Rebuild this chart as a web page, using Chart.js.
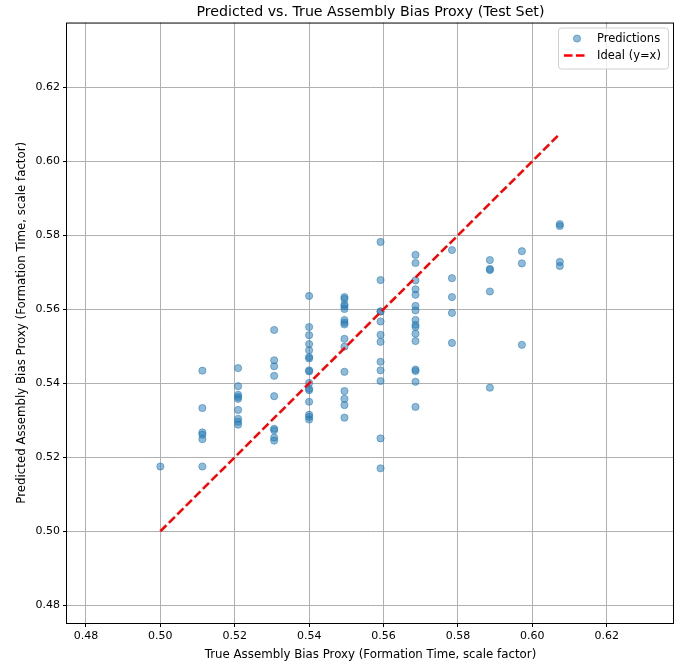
<!DOCTYPE html>
<html>
<head>
<meta charset="utf-8">
<script src="https://cdn.jsdelivr.net/npm/chart.js@4.4.1/dist/chart.umd.min.js"></script>
<style>
  body { margin: 0; background: #fff; }
  #wrap { width: 686px; height: 664px; }
</style>
</head>
<body>
<div id="wrap"><canvas id="scatterChart" width="686" height="664"></canvas></div>
<script>
// true values (x) and predicted values (y), one entry per test point
const trueVals = [
    0.5,
    0.5113, 0.5113, 0.5113, 0.5113, 0.5113, 0.5113,
    0.5209, 0.5209, 0.5209, 0.5209, 0.5209, 0.5209, 0.5209, 0.5209, 0.5209,
    0.5306, 0.5306, 0.5306, 0.5306, 0.5306, 0.5306, 0.5306, 0.5306, 0.5306,
    0.54, 0.54, 0.54, 0.54, 0.54, 0.54, 0.54, 0.54, 0.54, 0.54, 0.54, 0.54, 0.54, 0.54, 0.54, 0.54,
    0.5495, 0.5495, 0.5495, 0.5495, 0.5495, 0.5495, 0.5495, 0.5495, 0.5495, 0.5495, 0.5495, 0.5495, 0.5495, 0.5495, 0.5495,
    0.5592, 0.5592, 0.5592, 0.5592, 0.5592, 0.5592, 0.5592, 0.5592, 0.5592, 0.5592, 0.5592, 0.5592,
    0.5686, 0.5686, 0.5686, 0.5686, 0.5686, 0.5686, 0.5686, 0.5686, 0.5686, 0.5686, 0.5686, 0.5686, 0.5686, 0.5686, 0.5686, 0.5686,
    0.5784, 0.5784, 0.5784, 0.5784, 0.5784,
    0.5886, 0.5886, 0.5886, 0.5886, 0.5886,
    0.5972, 0.5972, 0.5972,
    0.6074, 0.6074, 0.6074, 0.6074
];
const predVals = [
    0.5175,
    0.5434, 0.5333, 0.5267, 0.5261, 0.5249, 0.5175,
    0.5441, 0.5392, 0.5369, 0.5363, 0.5358, 0.5328, 0.5304, 0.5296, 0.5288,
    0.5544, 0.5462, 0.5446, 0.5420, 0.5365, 0.5277, 0.5273, 0.5253, 0.5245,
    0.5636, 0.5552, 0.5530, 0.5506, 0.5489, 0.5471, 0.5467, 0.5435, 0.5432, 0.5401, 0.5385, 0.5381, 0.5350, 0.5315, 0.5309, 0.5302,
    0.5633, 0.5628, 0.5613, 0.5608, 0.5601, 0.5571, 0.5564, 0.5559, 0.5520, 0.5499, 0.5431, 0.5379, 0.5358, 0.5341, 0.5307,
    0.5782, 0.5679, 0.5594, 0.5567, 0.5531, 0.5512, 0.5458, 0.5435, 0.5406, 0.5251, 0.5170, 0.5594,
    0.5747, 0.5725, 0.5678, 0.5654, 0.5639, 0.5609, 0.5597, 0.5571, 0.5558, 0.5552, 0.5534, 0.5514, 0.5437, 0.5433, 0.5404, 0.5336,
    0.5760, 0.5684, 0.5633, 0.5590, 0.5509,
    0.5733, 0.5709, 0.5706, 0.5648, 0.5388,
    0.5757, 0.5724, 0.5504,
    0.5830, 0.5825, 0.5728, 0.5717
];
const tickVals = [0.48, 0.50, 0.52, 0.54, 0.56, 0.58, 0.60, 0.62];

const colors = {
    point: "rgba(31, 119, 180, 0.5)",
    ideal: "#ff0000",
    grid: "#b0b0b0"
};

const points = trueVals.map((x, i) => ({ x: x, y: predVals[i] }));
const lo = Math.min(...trueVals);
const hi = Math.max(...trueVals);
const idealLine = [{ x: lo, y: lo }, { x: hi, y: hi }];

const fontFamily = "'DejaVu Sans', sans-serif";
const idealDash = [8.5, 3.5];

// frame around plot area + matplotlib-style legend box
const framePlugin = {
    id: "frame",
    afterDraw(chart) {
        const { ctx, chartArea: a } = chart;
        ctx.save();
        ctx.strokeStyle = "#000";
        ctx.lineWidth = 1;
        ctx.strokeRect(a.left - 0.5, a.top + 0.5, a.right - a.left, a.bottom - a.top);

        // legend
        const bx = a.right - 116, by = a.top + 5, bw = 110, bh = 41;
        ctx.fillStyle = "rgba(255,255,255,0.8)";
        ctx.strokeStyle = "#d0d0d0";
        ctx.beginPath();
        ctx.roundRect(bx + 0.5, by + 0.5, bw, bh, 3);
        ctx.fill();
        ctx.stroke();

        ctx.font = "11.5px " + fontFamily;
        ctx.textBaseline = "middle";
        const ds = chart.data.datasets;

        ctx.beginPath();
        ctx.fillStyle = colors.point;
        ctx.strokeStyle = colors.point;
        ctx.lineWidth = 1;
        ctx.arc(bx + 19, by + 11, 3.6, 0, Math.PI * 2);
        ctx.fill();
        ctx.stroke();
        ctx.fillStyle = "#000";
        ctx.fillText(ds[0].label, bx + 39, by + 11);

        ctx.beginPath();
        ctx.strokeStyle = colors.ideal;
        ctx.lineWidth = 2.5;
        ctx.setLineDash(idealDash);
        ctx.moveTo(bx + 6, by + 28);
        ctx.lineTo(bx + 27, by + 28);
        ctx.stroke();
        ctx.setLineDash([]);
        ctx.fillText(ds[1].label, bx + 39, by + 28);
        ctx.restore();
    }
};

function axisOpts(min, max, title, isY) {
    return {
        type: "linear",
        min: min,
        max: max,
        afterBuildTicks: (scale) => {
            scale.ticks = tickVals.map(v => ({ value: v }));
        },
        afterFit: (scale) => {
            if (isY) scale.width = 54;
            else scale.height = 41;
        },
        ticks: {
            color: "#000",
            padding: 3,
            font: { family: fontFamily, size: 11 },
            callback: (v) => v.toFixed(2)
        },
        grid: {
            color: colors.grid,
            lineWidth: 1,
            tickColor: "#000",
            tickLength: 4
        },
        border: { display: false },
        title: {
            display: true,
            text: title,
            color: "#000",
            padding: { top: 2, bottom: 2 },
            font: { family: fontFamily, size: 11.8 }
        }
    };
}

const ctx = document.getElementById("scatterChart");
new Chart(ctx, {
    type: "scatter",
    data: {
        datasets: [
            {
                label: "Predictions",
                data: points,
                backgroundColor: colors.point,
                borderColor: colors.point,
                borderWidth: 1,
                pointRadius: 3.6,
                order: 2
            },
            {
                type: "line",
                label: "Ideal (y=x)",
                data: idealLine,
                borderColor: colors.ideal,
                borderWidth: 2.5,
                borderDash: idealDash,
                pointRadius: 0,
                fill: false,
                order: 1
            }
        ]
    },
    options: {
        responsive: false,
        animation: false,
        layout: { padding: { left: 13, right: 12, top: 0, bottom: 0 } },
        plugins: {
            legend: { display: false },
            tooltip: { enabled: false },
            title: {
                display: true,
                fullSize: false,
                text: "Predicted vs. True Assembly Bias Proxy (Test Set)",
                color: "#000",
                padding: { top: 3.5, bottom: 2 },
                font: { family: fontFamily, size: 14.2, weight: "normal" }
            }
        },
        scales: {
            x: axisOpts(0.4749, 0.6381, "True Assembly Bias Proxy (Formation Time, scale factor)", false),
            y: axisOpts(0.4752, 0.6375, "Predicted Assembly Bias Proxy (Formation Time, scale factor)", true)
        }
    },
    plugins: [framePlugin]
});
</script>
</body>
</html>
